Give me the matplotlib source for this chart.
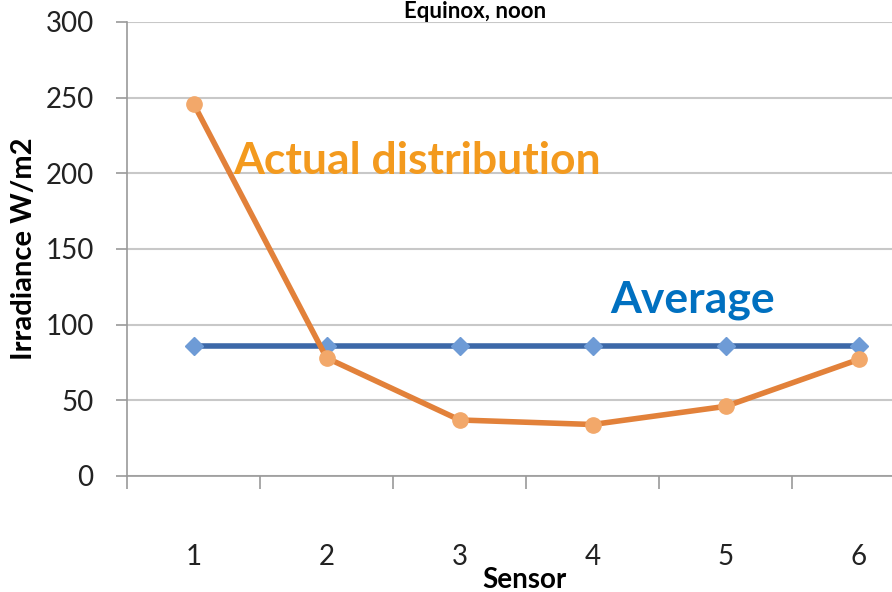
import matplotlib.pyplot as plt

sensors = [1, 2, 3, 4, 5, 6]
actual = [246, 78, 37, 34, 46, 77]
average = [86, 86, 86, 86, 86, 86]
y_ticks = [0, 50, 100, 150, 200, 250, 300]

plt.rcParams['font.family'] = ['Lato', 'DejaVu Sans']

fig = plt.figure(figsize=(8.92, 5.92), dpi=100)
ax = fig.add_axes([0.1424, 0.196, 0.8576, 0.767])

ax.plot(sensors, average, color='#3C68A8', lw=4, marker='D', ms=9,
        mfc='#6E9BD6', mec='#6E9BD6', zorder=3)
ax.plot(sensors, actual, color='#E2813A', lw=4, marker='o', ms=11,
        mfc='#F2A86A', mec='#F2A86A', zorder=4)

ax.set_yticks(y_ticks)
ax.set_xticks(sensors)
ax.set_xticks([0.5 + i for i in range(7)], minor=True)
# limits after ticks, otherwise set_xticks widens the view
ax.set_xlim(0.5, 6.25)
ax.set_ylim(0, 300)
ax.tick_params(axis='x', which='major', length=0, pad=49, labelsize=20, labelcolor='#222222')
ax.tick_params(axis='x', which='minor', length=9, width=1.2, color='#9a9a9a', direction='out')
ax.tick_params(axis='y', length=8, width=1.2, color='#9a9a9a', labelsize=20,
               labelcolor='#222222', pad=16)

ax.grid(axis='y', color='#c8c8c8', lw=1.5)
ax.set_axisbelow(True)
for s in ['top', 'right']:
    ax.spines[s].set_visible(False)
for s in ['left', 'bottom']:
    ax.spines[s].set_color('#9a9a9a')
    ax.spines[s].set_linewidth(1.2)

ax.set_ylabel('Irradiance W/m2', fontsize=21, fontweight='bold')
ax.yaxis.set_label_coords(-0.118, 0.5)
ax.set_xlabel('Sensor', fontsize=20, fontweight='bold')
ax.xaxis.set_label_coords(0.52, -0.2)

ax.text(1.3, 208, 'Actual distribution', color='#F39A1E', fontsize=32,
        fontweight='bold', va='center', ha='left')
ax.text(4.13, 116, 'Average', color='#0070C0', fontsize=32,
        fontweight='bold', va='center', ha='left')

fig.text(0.533, 0.999, 'Equinox, noon', fontsize=16, fontweight='bold',
         ha='center', va='top')

fig.savefig('out.png', dpi=100)
